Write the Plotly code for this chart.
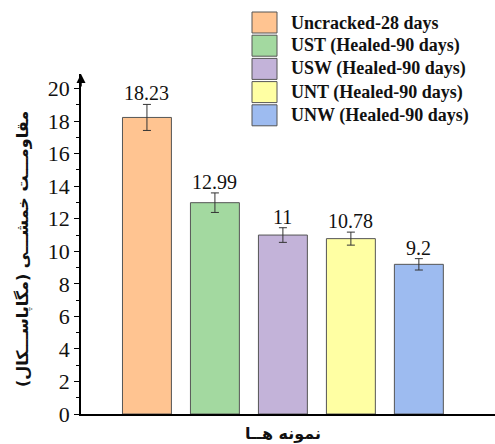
import plotly.graph_objects as go

# Flexural strength of specimens (MPa)
categories = ["Uncracked-28 days", "UST (Healed-90 days)", "USW (Healed-90 days)",
              "UNT (Healed-90 days)", "UNW (Healed-90 days)"]
strength = [18.23, 12.99, 11, 10.78, 9.2]
error = [0.8, 0.6, 0.45, 0.4, 0.35]
value_labels = ["18.23", "12.99", "11", "10.78", "9.2"]
colors = ["#FFC491", "#A3D9A0", "#C3B3D9", "#FFFFA3", "#9DBBF0"]
y_ticks = [0, 2, 4, 6, 8, 10, 12, 14, 16, 18, 20]

serif = "Liberation Serif"
x_pos = list(range(len(categories)))

W, H = 495, 444
L, T, B = 81, 74, 30
PW, PH = W - L, H - T - B

fig = go.Figure()
fig.add_trace(go.Bar(
    x=x_pos, y=strength, width=0.72,
    marker=dict(color=colors, line=dict(color="#555555", width=1)),
    error_y=dict(type="data", array=error, visible=True,
                 color="#333333", thickness=1, width=4),
    showlegend=False, hoverinfo="skip",
))

# value labels above the error bars
for xi, v, e, t in zip(x_pos, strength, error, value_labels):
    fig.add_annotation(x=xi, y=v + e, text=t, showarrow=False, yanchor="bottom",
                       yshift=-2, font=dict(family=serif, size=20, color="#111111"))

# legend drawn as swatches + bold labels
leg_x0, leg_y0, row_h = 252, 12, 23.2
for i, (name, c) in enumerate(zip(categories, colors)):
    top = leg_y0 + i * row_h
    fig.add_shape(type="rect", xref="paper", yref="paper",
                  x0=(leg_x0 - L) / PW, x1=(leg_x0 + 25 - L) / PW,
                  y0=(414 - top - 21) / PH, y1=(414 - top) / PH,
                  fillcolor=c, line=dict(color="#555555", width=1))
    fig.add_annotation(xref="paper", yref="paper",
                       x=(289 - L) / PW, y=(414 - top - 10.5) / PH,
                       text=f"<b>{name}</b>", showarrow=False, xanchor="left", yanchor="middle",
                       font=dict(family=serif, size=18, color="#111111"))

# arrow at the top of the y axis
fig.add_annotation(xref="paper", yref="paper", x=0, y=1.0, ax=0, ay=14,
                   axref="pixel", ayref="pixel", showarrow=True, arrowhead=2,
                   arrowsize=1.2, arrowwidth=1.5, arrowcolor="#000000", text="")

# axis titles
fig.add_annotation(xref="paper", yref="paper", x=(23 - L) / PW, y=(414 - 249) / PH,
                   xanchor="center", yanchor="middle",
                   text="<b>مقاومـــت خمشـــی (مگاپاســـکال)</b>", textangle=-90,
                   showarrow=False, font=dict(family="DejaVu Sans", size=16, color="#111111"))
fig.add_annotation(xref="paper", yref="paper", x=(283 - L) / PW, y=-19 / PH,
                   xanchor="center", yanchor="middle",
                   text="<b>نمونه هــا</b>", showarrow=False,
                   font=dict(family="DejaVu Sans", size=16, color="#111111"))

fig.update_layout(
    width=W, height=H,
    margin=dict(l=L, r=0, t=T, b=B),
    paper_bgcolor="white", plot_bgcolor="white",
    xaxis=dict(range=[-0.97, 5.12], showticklabels=False, ticks="",
               showline=True, linecolor="#000000", linewidth=1.5,
               showgrid=False, zeroline=False),
    yaxis=dict(range=[0, 20.9], tickvals=y_ticks, ticks="outside", ticklen=5,
               tickwidth=1, tickcolor="#000000",
               minor=dict(tickvals=[1, 3, 5, 7, 9, 11, 13, 15, 17, 19], ticks="outside",
                          ticklen=3, tickcolor="#000000", tickwidth=1),
               showline=True, linecolor="#000000", linewidth=1.5,
               showgrid=False, zeroline=False,
               tickfont=dict(family=serif, size=22, color="#111111")),
    showlegend=False,
)

fig.write_html("out.html")
